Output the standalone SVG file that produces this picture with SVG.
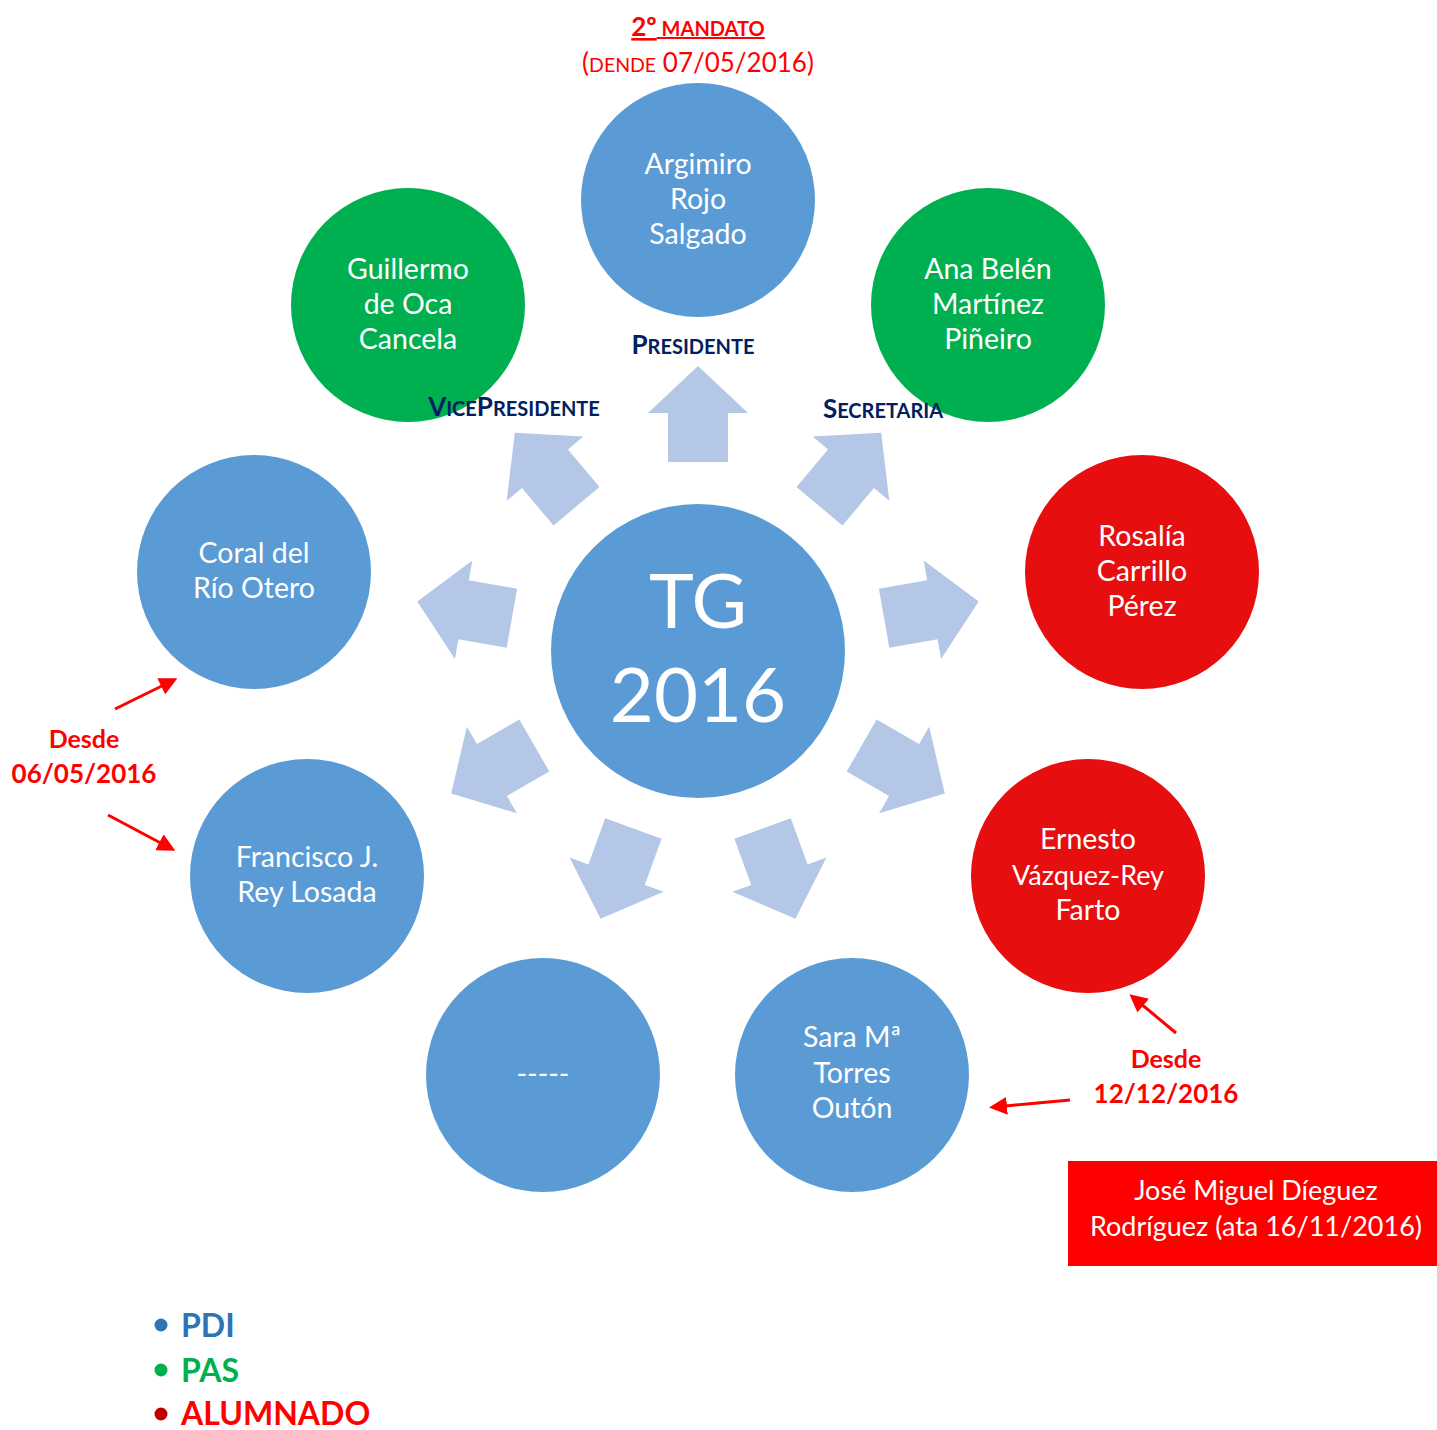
<svg xmlns="http://www.w3.org/2000/svg" xmlns:xlink="http://www.w3.org/1999/xlink" width="1437" height="1430" viewBox="0 0 1437 1430">
<style>
.pdi{fill:#5B9BD5}
.pas{fill:#00B050}
.alu{fill:#E60E0E}
.nt{font-family:Lato,"Liberation Sans",sans-serif;font-size:28.5px;fill:#fff;text-anchor:middle}
.bx{font-family:Lato,"Liberation Sans",sans-serif;font-size:27px;fill:#fff;text-anchor:middle}
.big{font-family:Lato,"Liberation Sans",sans-serif;font-size:76px;fill:#fff;text-anchor:middle}
.role{font-family:Lato,"Liberation Sans",sans-serif;font-weight:bold;fill:#002060;text-anchor:middle;font-size:20px}
.role .c{font-size:26px}
.red{font-family:Lato,"Liberation Sans",sans-serif;fill:#FF0000;text-anchor:middle}
.desde{font-family:Lato,"Liberation Sans",sans-serif;font-weight:bold;fill:#FF0000;text-anchor:middle;font-size:25px}
.leg{font-family:Lato,"Liberation Sans",sans-serif;font-weight:bold;font-size:32px}
.arrow{fill:#B4C7E7}
.rl{stroke:#FF0000;stroke-width:3;fill:none;marker-end:url(#rh)}
</style>
<defs>
<polygon id="arr" class="arrow" points="0,-285 50,-238 30,-238 30,-189 -30,-189 -30,-238 -50,-238"/>
<marker id="rh" markerWidth="6" markerHeight="6" refX="4" refY="3" orient="auto" markerUnits="strokeWidth">
<path d="M0,0 L6,3 L0,6 Z" fill="#FF0000"/>
</marker>
</defs>
<rect width="1437" height="1430" fill="#fff"/>

<g id="connectors">
<use xlink:href="#arr" transform="translate(698,651) rotate(0)"/>
<use xlink:href="#arr" transform="translate(698,651) rotate(40)"/>
<use xlink:href="#arr" transform="translate(698,651) rotate(80)"/>
<use xlink:href="#arr" transform="translate(698,651) rotate(120)"/>
<use xlink:href="#arr" transform="translate(698,651) rotate(160)"/>
<use xlink:href="#arr" transform="translate(698,651) rotate(200)"/>
<use xlink:href="#arr" transform="translate(698,651) rotate(240)"/>
<use xlink:href="#arr" transform="translate(698,651) rotate(280)"/>
<use xlink:href="#arr" transform="translate(698,651) rotate(320)"/>
</g>

<g id="tg">
<circle class="pdi" cx="698" cy="651" r="147"/>
<text class="big" x="698" y="628">TG</text>
<text class="big" x="698" y="722">2016</text>
</g>

<g id="argimiro">
<circle class="pdi" cx="698" cy="200" r="117"/>
<text class="nt" x="698" y="174">Argimiro</text>
<text class="nt" x="698" y="209">Rojo</text>
<text class="nt" x="698" y="244">Salgado</text>
</g>
<g id="guillermo">
<circle class="pas" cx="408" cy="305" r="117"/>
<text class="nt" x="408" y="279">Guillermo</text>
<text class="nt" x="408" y="314">de Oca</text>
<text class="nt" x="408" y="349">Cancela</text>
</g>
<g id="ana">
<circle class="pas" cx="988" cy="305" r="117"/>
<text class="nt" x="988" y="279">Ana Belén</text>
<text class="nt" x="988" y="314">Martínez</text>
<text class="nt" x="988" y="349">Piñeiro</text>
</g>
<g id="coral">
<circle class="pdi" cx="254" cy="572" r="117"/>
<text class="nt" x="254" y="563">Coral del</text>
<text class="nt" x="254" y="598">Río Otero</text>
</g>
<g id="rosalia">
<circle class="alu" cx="1142" cy="572" r="117"/>
<text class="nt" x="1142" y="546">Rosalía</text>
<text class="nt" x="1142" y="581">Carrillo</text>
<text class="nt" x="1142" y="616">Pérez</text>
</g>
<g id="francisco">
<circle class="pdi" cx="307" cy="876" r="117"/>
<text class="nt" x="307" y="867">Francisco J.</text>
<text class="nt" x="307" y="902">Rey Losada</text>
</g>
<g id="ernesto">
<circle class="alu" cx="1088" cy="876" r="117"/>
<text class="nt" x="1088" y="849">Ernesto</text>
<text class="nt" x="1088" y="885" style="font-size:27px">Vázquez-Rey</text>
<text class="nt" x="1088" y="920">Farto</text>
</g>
<g id="vacante">
<circle class="pdi" cx="543" cy="1075" r="117"/>
<text class="nt" x="543" y="1084">-----</text>
</g>
<g id="sara">
<circle class="pdi" cx="852" cy="1075" r="117"/>
<text class="nt" x="852" y="1047">Sara Mª</text>
<text class="nt" x="852" y="1083">Torres</text>
<text class="nt" x="852" y="1118">Outón</text>
</g>

<g id="roles">
<text class="role" x="693" y="354"><tspan class="c">P</tspan>RESIDENTE</text>
<text class="role" x="514" y="416"><tspan class="c">V</tspan>ICE<tspan class="c">P</tspan>RESIDENTE</text>
<text class="role" x="883" y="418"><tspan class="c">S</tspan>ECRETARIA</text>
</g>

<g id="mandato">
<text class="red" x="698" y="36" style="font-weight:bold;font-size:20px;text-decoration:underline"><tspan style="font-size:26px">2º</tspan> MANDATO</text>
<text class="red" x="698" y="72" style="font-size:26px">(<tspan style="font-size:19.5px">DENDE</tspan> 07/05/2016)</text>
</g>

<g id="desde1">
<text class="desde" x="84" y="748">Desde</text>
<text class="desde" x="84" y="783" style="font-size:26px">06/05/2016</text>
<line class="rl" x1="115" y1="709" x2="172" y2="681"/>
<line class="rl" x1="108" y1="815" x2="170" y2="848"/>
</g>
<g id="desde2">
<text class="desde" x="1166" y="1068">Desde</text>
<text class="desde" x="1166" y="1103" style="font-size:26px">12/12/2016</text>
<line class="rl" x1="1176" y1="1033" x2="1134" y2="998"/>
<line class="rl" x1="1070" y1="1100" x2="995" y2="1107"/>
</g>

<g id="exmember">
<rect x="1068" y="1161" width="369" height="105" fill="#FF0000"/>
<text class="bx" x="1256" y="1200">José Miguel Díeguez</text>
<text class="bx" x="1256" y="1236">Rodríguez (ata 16/11/2016)</text>
</g>

<g id="legend">
<circle cx="161" cy="1325" r="6.5" fill="#2E75B6"/>
<text class="leg" x="181" y="1337" fill="#2E75B6">PDI</text>
<circle cx="161" cy="1370" r="6.5" fill="#00B050"/>
<text class="leg" x="181" y="1382" fill="#00B050">PAS</text>
<circle cx="161" cy="1414" r="6.5" fill="#C00000"/>
<text class="leg" x="181" y="1425" fill="#FF0000">ALUMNADO</text>
</g>
</svg>
